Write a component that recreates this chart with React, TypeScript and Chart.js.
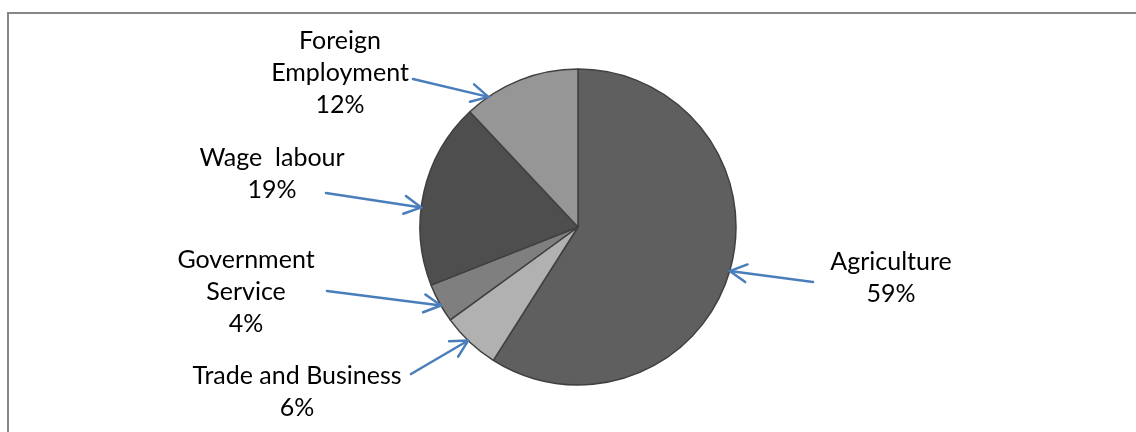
import React, { useEffect, useRef } from "react";
import { Chart, registerables } from "chart.js";

Chart.register(...registerables);

// ---- data ----
const categories = ["Agriculture", "Trade and Business", "Government Service", "Wage  labour", "Foreign Employment"];
const labelLines = [["Agriculture"], ["Trade and Business"], ["Government", "Service"], ["Wage  labour"], ["Foreign", "Employment"]];
const shares = [59, 6, 4, 19, 12];
const sliceColors = ["#5f5f5f", "#b1b1b1", "#7f7f7f", "#4e4e4e", "#969696"];

// ---- annotation layout (label centre x, first baseline y, arrow tail, where along the slice the arrow points) ----
const labelX = [891, 297, 246, 272, 340];
const labelY = [270, 384, 268, 166, 49];
const arrowTailX = [813, 411, 327, 326, 413];
const arrowTailY = [282, 374, 291, 193, 79];
const arrowAlong = [0.5, 0.54, 0.43, 0.42, 0.2];

const FONT = "25px Lato, 'Noto Sans', sans-serif";
const LINE_H = 32;
const ARROW = "#4a7ebb";

const annotate = {
  id: "annotate",
  beforeDraw(chart: any) {
    const ctx = chart.ctx;
    ctx.save();
    ctx.fillStyle = "#ffffff";
    ctx.fillRect(0, 0, chart.width, chart.height);
    ctx.strokeStyle = "#878787";
    ctx.lineWidth = 2;
    ctx.strokeRect(8, 13, 1400, 600);
    ctx.restore();
  },
  afterDraw(chart: any) {
    const ctx = chart.ctx;
    const meta = chart.getDatasetMeta(0);
    const total = shares.reduce((a, b) => a + b, 0);
    ctx.save();
    ctx.font = FONT;
    ctx.fillStyle = "#000000";
    ctx.textAlign = "center";
    ctx.textBaseline = "alphabetic";
    meta.data.forEach((arc: any, i: number) => {
      const lines = [...labelLines[i], Math.round((shares[i] / total) * 100) + "%"];
      lines.forEach((t, k) => ctx.fillText(t, labelX[i], labelY[i] + k * LINE_H));
      const p = arc.getProps(["x", "y", "startAngle", "endAngle", "outerRadius"], true);
      const a = p.startAngle + arrowAlong[i] * (p.endAngle - p.startAngle);
      const tx = p.x + Math.cos(a) * p.outerRadius;
      const ty = p.y + Math.sin(a) * p.outerRadius;
      const sx = arrowTailX[i];
      const sy = arrowTailY[i];
      const ang = Math.atan2(ty - sy, tx - sx);
      ctx.strokeStyle = ARROW;
      ctx.lineWidth = 2.5;
      ctx.lineCap = "round";
      ctx.lineJoin = "round";
      ctx.beginPath();
      ctx.moveTo(sx, sy);
      ctx.lineTo(tx, ty);
      ctx.stroke();
      const L = 19;
      const spread = (28 * Math.PI) / 180;
      ctx.beginPath();
      ctx.moveTo(tx - L * Math.cos(ang - spread), ty - L * Math.sin(ang - spread));
      ctx.lineTo(tx, ty);
      ctx.lineTo(tx - L * Math.cos(ang + spread), ty - L * Math.sin(ang + spread));
      ctx.stroke();
    });
    ctx.restore();
  },
};

export default function App() {
  const ref = useRef<HTMLCanvasElement | null>(null);
  useEffect(() => {
    if (!ref.current) return;
    const chart = new Chart(ref.current, {
      type: "pie",
      data: {
        labels: categories,
        datasets: [
          {
            data: shares,
            backgroundColor: sliceColors,
            borderColor: "#404040",
            borderWidth: 1.5,
            radius: 158,
          } as any,
        ],
      },
      options: {
        responsive: false,
        animation: false,
        devicePixelRatio: 1,
        layout: { padding: { left: 418, right: 398, top: 67, bottom: 45 } },
        plugins: { legend: { display: false }, tooltip: { enabled: false } },
      },
      plugins: [annotate],
    });
    return () => chart.destroy();
  }, []);
  return (
    <div style={{ position: "absolute", left: 0, top: 0, width: 1136, height: 432, background: "#fff" }}>
      <canvas ref={ref} width={1136} height={432} style={{ display: "block" }} />
    </div>
  );
}
